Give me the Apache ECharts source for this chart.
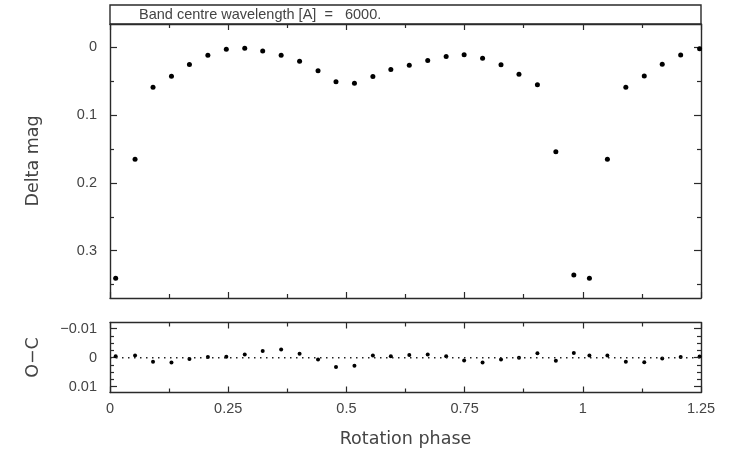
<!DOCTYPE html>
<html><head><meta charset="utf-8">
<script src="https://cdn.jsdelivr.net/npm/echarts@6/dist/echarts.min.js"></script>
<style>html,body{margin:0;padding:0;background:#fff}#c{width:733px;height:452px}</style>
</head><body><div id="c"></div>
<script>
const phase = [0.012,0.053,0.091,0.130,0.168,0.207,0.246,0.285,0.323,0.362,0.401,0.440,0.478,0.517,0.556,0.594,0.633,0.672,0.711,0.749,0.788,0.827,0.865,0.904,0.943,0.981,1.014,1.052,1.091,1.130,1.168,1.207,1.247];
const deltaMag = [0.341,0.165,0.0586,0.0423,0.0251,0.0114,0.0025,0.001,0.005,0.0114,0.0202,0.0345,0.0507,0.0527,0.0428,0.0324,0.0261,0.0192,0.0133,0.0109,0.0158,0.0256,0.0394,0.0551,0.154,0.336,0.341,0.165,0.0586,0.042,0.0246,0.011,0.002];
const residual = [-0.0005,-0.0007,0.0014,0.0017,0.0005,-0.0002,-0.0003,-0.0011,-0.0023,-0.0028,-0.0013,0.0006,0.0032,0.0028,-0.0007,-0.0005,-0.0009,-0.0011,-0.0005,0.001,0.0017,0.0006,0.0,-0.0015,0.0011,-0.0016,-0.0007,-0.0007,0.0014,0.0016,0.0003,-0.0002,-0.0004];
const zeroLine = [[0,0],[1.25,0]];

const xTicks = [0,0.25,0.5,0.75,1,1.25];
const xLabels = ['0','0.25','0.5','0.75','1','1.25'];
const xMinorTicks = [0.125,0.375,0.625,0.875,1.125];
const magTicks = [0,0.1,0.2,0.3];
const magLabels = ['0','0.1','0.2','0.3'];
const magMinorTicks = [0.05,0.15,0.25,0.35];
const ocTicks = [-0.01,0,0.01];
const ocLabels = ['\u22120.01','0','0.01'];
const ocMinorTicks = [-0.0075,-0.005,-0.0025,0.0025,0.005,0.0075];

const titleText = 'Band centre wavelength [A]  =   6000.';
const axisColor = '#2a2a2a';
const textColor = '#444';

function fmt(ticks, labels){
  return function(v){
    for (let i=0;i<ticks.length;i++){ if (Math.abs(v-ticks[i])<1e-9) return labels[i]; }
    return '';
  };
}

function axis(kind, grid, pos, min, max, ticks, len, showLine, labels, extra){
  const a = {
    type:'value', gridIndex:grid, position:pos, min:min, max:max,
    axisLine:{show:showLine, onZero:false, lineStyle:{color:axisColor,width:1.4}},
    axisTick:{show:true, inside:true, length:len, customValues:ticks, lineStyle:{color:axisColor,width:1.2}},
    axisLabel:{show:false},
    splitLine:{show:false}
  };
  if (labels){
    a.axisLabel = {show:true, customValues:ticks, formatter:fmt(ticks,labels), color:textColor,
      fontFamily:'Liberation Sans', fontSize:14.5, margin: kind==='y'?13:9};
  }
  return Object.assign(a, extra||{});
}

const nameStyle = {color:textColor, fontFamily:'DejaVu Sans', fontSize:17.5};

const xAxes = [];
const yAxes = [];
const magMin = -0.0347, magMax = 0.37;
const ocMin = -0.0121, ocMax = 0.012;
// grid 0 x axes (indices 0-3)
xAxes.push(axis('x',0,'bottom',0,1.25,xTicks,6,true,null));
xAxes.push(axis('x',0,'bottom',0,1.25,xMinorTicks,4,false,null));
xAxes.push(axis('x',0,'top',0,1.25,xTicks,6,true,null));
xAxes.push(axis('x',0,'top',0,1.25,xMinorTicks,4,false,null));
// grid 1 x axes (indices 4-7)
xAxes.push(axis('x',1,'bottom',0,1.25,xTicks,6,true,xLabels,{name:'Rotation phase',nameLocation:'middle',nameGap:38,nameTextStyle:nameStyle}));
xAxes.push(axis('x',1,'bottom',0,1.25,xMinorTicks,4,false,null));
xAxes.push(axis('x',1,'top',0,1.25,xTicks,6,true,null));
xAxes.push(axis('x',1,'top',0,1.25,xMinorTicks,4,false,null));
// grid 0 y axes (indices 0-3)
yAxes.push(axis('y',0,'left',magMin,magMax,magTicks,7,true,magLabels,{inverse:true,name:'Delta mag',nameLocation:'middle',nameGap:68,nameRotate:90,nameTextStyle:nameStyle}));
yAxes.push(axis('y',0,'left',magMin,magMax,magMinorTicks,4,false,null,{inverse:true}));
yAxes.push(axis('y',0,'right',magMin,magMax,magTicks,7,true,null,{inverse:true}));
yAxes.push(axis('y',0,'right',magMin,magMax,magMinorTicks,4,false,null,{inverse:true}));
// grid 1 y axes (indices 4-7)
yAxes.push(axis('y',1,'left',ocMin,ocMax,ocTicks,7,true,ocLabels,{inverse:true,name:'O\u2212C',nameLocation:'middle',nameGap:68,nameRotate:90,nameTextStyle:nameStyle}));
yAxes.push(axis('y',1,'left',ocMin,ocMax,ocMinorTicks,4,false,null,{inverse:true}));
yAxes.push(axis('y',1,'right',ocMin,ocMax,ocTicks,7,true,null,{inverse:true}));
yAxes.push(axis('y',1,'right',ocMin,ocMax,ocMinorTicks,4,false,null,{inverse:true}));

const chart = echarts.init(document.getElementById('c'), null, {renderer:'canvas'});
chart.setOption({
  animation:false,
  backgroundColor:'#fff',
  grid:[
    {left:110, top:24, width:591, height:274},
    {left:110, top:322.5, width:591, height:70}
  ],
  xAxis:xAxes,
  yAxis:yAxes,
  graphic:[
    {type:'rect', shape:{x:110,y:5,width:591,height:19}, style:{fill:'none',stroke:axisColor,lineWidth:1.4}, silent:true},
    {type:'text', x:139, y:15, style:{text:titleText, fill:textColor, font:'14.5px "Liberation Sans"', verticalAlign:'middle'}, silent:true}
  ],
  series:[
    {type:'scatter', xAxisIndex:0, yAxisIndex:0, symbol:'circle', symbolSize:5,
      itemStyle:{color:'#000', opacity:1}, data: phase.map((p,i)=>[p,deltaMag[i]])},
    {type:'line', xAxisIndex:4, yAxisIndex:4, showSymbol:false, symbol:'none',
      lineStyle:{color:'#222',width:1.5,type:[1.5,4.5]}, data: zeroLine},
    {type:'scatter', xAxisIndex:4, yAxisIndex:4, symbol:'circle', symbolSize:4,
      itemStyle:{color:'#000', opacity:1}, data: phase.map((p,i)=>[p,residual[i]])}
  ]
});
</script></body></html>
